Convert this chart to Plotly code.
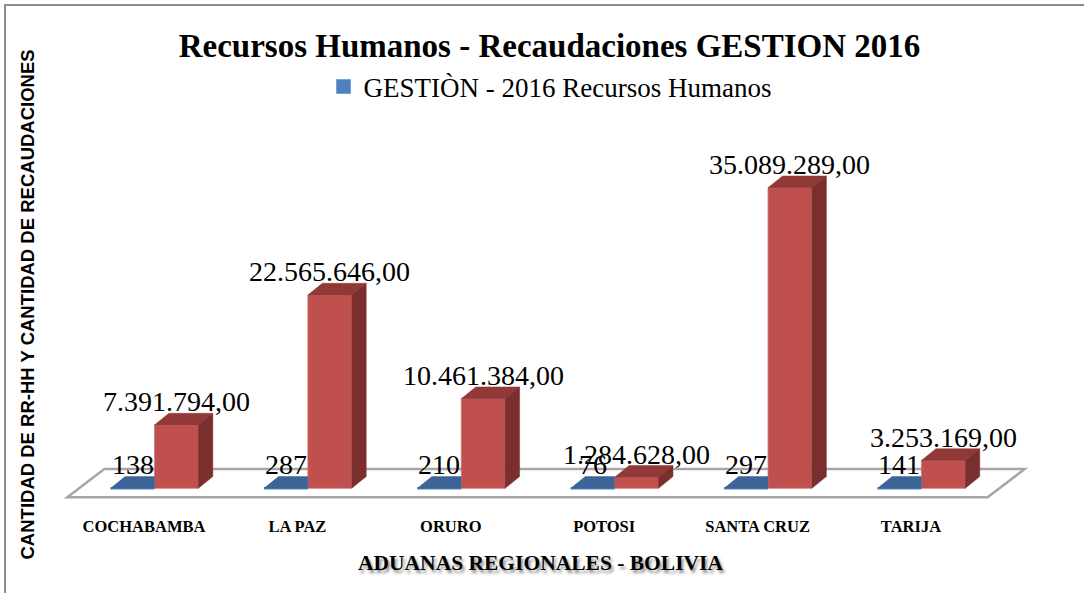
import plotly.graph_objects as go

# ---------------- data ----------------
categories = ["COCHABAMBA", "LA PAZ", "ORURO", "POTOSI", "SANTA CRUZ", "TARIJA"]
rrhh = [138, 287, 210, 76, 297, 141]
recaudaciones = [7391794.00, 22565646.00, 10461384.00, 1284628.00, 35089289.00, 3253169.00]
rrhh_name = "GESTIÒN - 2016 Recursos Humanos"
recaud_name = "GESTIÒN - 2016 Recaudaciones"

# ---------------- layout geometry ----------------
W, H = 1084, 593
ML, MR, MT, MB = 52, 35, 150, 83
PW, PH = W - ML - MR, H - MT - MB
X_RANGE = [-0.6, 5.9]
BASE_PX = 488.3                       # pixel row of value 0
VAL_PER_PX = 35089289.0 / 300.6       # value units per pixel
Y_RANGE = [-((H - MB) - BASE_PX) * VAL_PER_PX, (BASE_PX - MT) * VAL_PER_PX]
X_PER_PX = (X_RANGE[1] - X_RANGE[0]) / PW

# 3D depth of the bars (in axis units)
DX = 14.5 * X_PER_PX
DY = 11.7 * VAL_PER_PX
BAR_W = 0.286
BLUE_OFF = -0.218
RED_OFF = BLUE_OFF + BAR_W

SERIF = "Liberation Serif, DejaVu Serif, serif"
SANS = "Liberation Sans, Arial, sans-serif"


def fmt(v):
    s = f"{v:,.2f}"
    return s.replace(",", "X").replace(".", ",").replace("X", ".")


xs = list(range(len(categories)))
fig = go.Figure()

# floor plane under the bars (drawn below all traces)
fx0, fx1 = -0.5, 5.5
f_front = -9.0 * VAL_PER_PX
f_back = 19.3 * VAL_PER_PX
f_shift = 37.0 * X_PER_PX
floor_path = (f"M {fx0},{f_front} L {fx1},{f_front} L {fx1 + f_shift},{f_back} "
              f"L {fx0 + f_shift},{f_back} Z")


def top_faces(vals, off, clip=False):
    px, py = [], []
    for i, v in zip(xs, vals):
        a, b = i + off, i + off + BAR_W
        if clip:   # part hidden behind the neighbouring front face is cut away
            px += [a, a + DX, b, b, a, None]
            py += [v, v + DY, v + DY, v, v, None]
        else:
            px += [a, a + DX, b + DX, b, a, None]
            py += [v, v + DY, v + DY, v, v, None]
    return px, py


def side_faces(vals, off):
    px, py = [], []
    for i, v in zip(xs, vals):
        b = i + off + BAR_W
        px += [b, b + DX, b + DX, b, b, None]
        py += [0, DY, v + DY, v, 0, None]
    return px, py


# blue series (legend entry + flat top faces)
fig.add_trace(go.Bar(x=xs, y=rrhh, width=BAR_W, offset=BLUE_OFF, name=rrhh_name,
                     marker=dict(color="#4F81BD", line=dict(color="#4F81BD", width=2.5)),
                     showlegend=True))
bx, by = top_faces(rrhh, BLUE_OFF, clip=True)
fig.add_trace(go.Scatter(x=bx, y=by, mode="lines", fill="toself", fillcolor="#3C6496",
                         line=dict(color="#3C6496", width=0.5), hoverinfo="skip", showlegend=False))

# red series: front, top, side
fig.add_trace(go.Bar(x=xs, y=recaudaciones, width=BAR_W, offset=RED_OFF, name=recaud_name,
                     marker=dict(color="#C0504D", line=dict(color="#cf7b78", width=0.8)),
                     showlegend=False))
rx, ry = top_faces(recaudaciones, RED_OFF)
fig.add_trace(go.Scatter(x=rx, y=ry, mode="lines", fill="toself", fillcolor="#913937",
                         line=dict(color="#913937", width=0.5), hoverinfo="skip", showlegend=False))
sx, sy = side_faces(recaudaciones, RED_OFF)
fig.add_trace(go.Scatter(x=sx, y=sy, mode="lines", fill="toself", fillcolor="#7A2F2E",
                         line=dict(color="#7A2F2E", width=0.5), hoverinfo="skip", showlegend=False))

annotations = []
for i, v in zip(xs, rrhh):
    annotations.append(dict(x=i + BLUE_OFF + BAR_W / 2, y=v, xref="x", yref="y", text=str(v),
                            showarrow=False, yshift=24, yanchor="middle",
                            font=dict(family=SERIF, size=28, color="black")))
for i, v in zip(xs, recaudaciones):
    annotations.append(dict(x=i + RED_OFF + BAR_W / 2, y=v, xref="x", yref="y", text=fmt(v),
                            showarrow=False, yshift=23, yanchor="middle",
                            font=dict(family=SERIF, size=28, color="black")))

# axis titles
annotations.append(dict(x=(26.5 - ML) / PW, y=((H - MB) - 305) / PH, xref="paper", yref="paper",
                        text="<b>CANTIDAD DE RR-HH Y CANTIDAD DE RECAUDACIONES</b>", textangle=-90,
                        showarrow=False, xanchor="center", yanchor="middle",
                        font=dict(family=SANS, size=18.5, color="black")))
annotations.append(dict(x=(540.5 - ML) / PW, y=((H - MB) - 563) / PH, xref="paper", yref="paper",
                        text="<b>ADUANAS REGIONALES - BOLIVIA</b>", showarrow=False,
                        xanchor="center", yanchor="middle",
                        font=dict(family=SERIF, size=21.5, color="black",
                                  shadow="2px 3px 3px rgba(0,0,0,0.45)")))

shapes = [
    dict(type="rect", xref="paper", yref="paper",
         x0=(5 - ML) / PW, x1=(W + 10 - ML) / PW,
         y0=((H - MB) - (H + 10)) / PH, y1=((H - MB) - 5) / PH,
         line=dict(color="#8c8c8c", width=2), fillcolor="rgba(0,0,0,0)", layer="below"),
    dict(type="path", xref="x", yref="y", path=floor_path, fillcolor="white",
         line=dict(color="#a6a6a6", width=2.5), layer="below"),
]

fig.update_layout(
    width=W, height=H,
    margin=dict(l=ML, r=MR, t=MT, b=MB),
    paper_bgcolor="white", plot_bgcolor="white",
    barmode="overlay",
    title=dict(text="<b>Recursos Humanos - Recaudaciones GESTION 2016</b>",
               x=549.5 / W, xref="container", xanchor="center",
               y=1 - 45 / H, yref="container", yanchor="middle",
               font=dict(family=SERIF, size=33, color="black")),
    legend=dict(orientation="h", x=550 / W, xref="container", xanchor="center",
                y=1 - 87 / H, yref="container", yanchor="middle",
                font=dict(family=SERIF, size=27, color="black"),
                bgcolor="rgba(0,0,0,0)"),
    xaxis=dict(range=X_RANGE, tickvals=xs, ticktext=[f"<b>{c}</b>" for c in categories],
               showgrid=False, zeroline=False, showline=False, ticks="", ticklabelstandoff=4,
               tickfont=dict(family=SERIF, size=16.5, color="black"), fixedrange=True),
    yaxis=dict(range=Y_RANGE, visible=False, showgrid=False, zeroline=False, fixedrange=True),
    annotations=annotations,
    shapes=shapes,
    showlegend=True,
)

fig.write_html("out.html", config={"displayModeBar": False},
               post_script="document.body.style.margin='0';")
